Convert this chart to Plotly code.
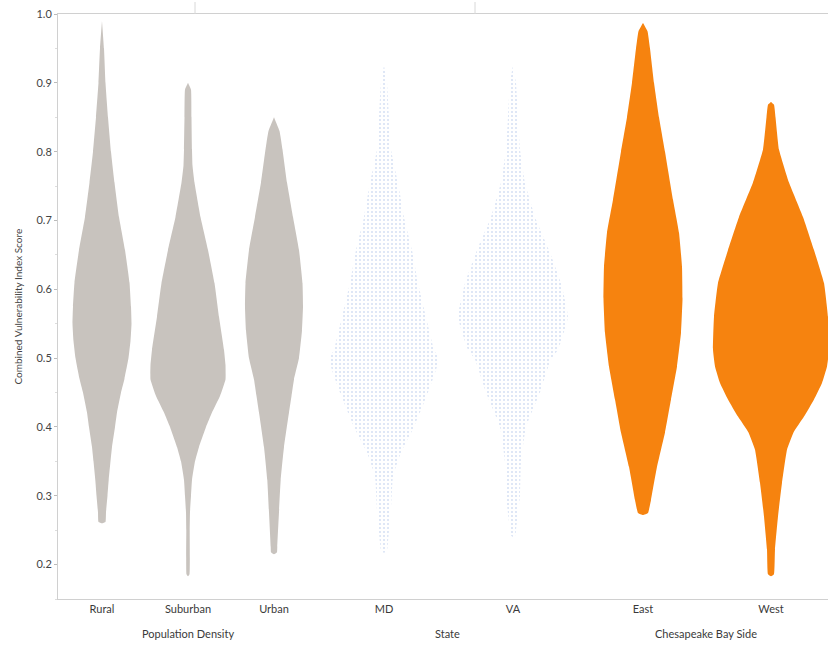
import plotly.graph_objects as go

# ---- data ----
categories = ["Rural", "Suburban", "Urban", "MD", "VA", "East", "West"]
groups = ["Population Density", "State", "Chesapeake Bay Side"]
y_ticks = [0.2, 0.3, 0.4, 0.5, 0.6, 0.7, 0.8, 0.9, 1.0]
y_tick_labels = ["0.2", "0.3", "0.4", "0.5", "0.6", "0.7", "0.8", "0.9", "1.0"]

# density profiles: score levels and relative half-widths
rural_y = [0.26, 0.262, 0.276, 0.30, 0.323, 0.35, 0.371, 0.40, 0.421, 0.45, 0.47, 0.50, 0.525, 0.55, 0.575,
           0.61, 0.657, 0.705, 0.755, 0.80, 0.85, 0.90, 0.95, 0.99]
rural_w = [0, 3.5, 4, 5.5, 6.7, 8.5, 10, 13, 15, 19, 22.5, 26.5, 28.5, 29.5, 29, 27.5, 23, 17, 12.5, 9, 6, 3.5, 2, 0]

suburban_y = [0.183, 0.186, 0.25, 0.276, 0.30, 0.323, 0.35, 0.371, 0.40, 0.421, 0.445, 0.469, 0.49, 0.512, 0.56,
              0.609, 0.657, 0.705, 0.755, 0.78, 0.803, 0.85, 0.89, 0.90]
suburban_w = [0, 1.5, 1.7, 2, 3, 4, 7, 11, 18, 24, 32, 37.5, 37.5, 36, 31, 26.5, 20, 12.5, 6.5, 4.5, 4, 3.5, 3, 0]

urban_y = [0.215, 0.218, 0.226, 0.276, 0.323, 0.371, 0.421, 0.445, 0.469, 0.50, 0.54, 0.575, 0.609, 0.657, 0.705,
           0.755, 0.803, 0.83, 0.85]
urban_w = [0, 3, 3.3, 5, 6.7, 10, 15, 17.5, 20, 25, 28, 29, 28.5, 25, 19, 13, 8.5, 5.5, 0]

md_y = [0.217, 0.22, 0.232, 0.28, 0.328, 0.363, 0.40, 0.45, 0.498, 0.512, 0.56, 0.609, 0.657, 0.705, 0.755, 0.803,
        0.85, 0.90, 0.925]
md_w = [0, 3, 4, 7, 9, 17, 30, 44, 55, 50, 42, 34, 28, 20, 14, 7, 5, 3, 0]

va_y = [0.24, 0.243, 0.25, 0.30, 0.35, 0.40, 0.45, 0.498, 0.512, 0.56, 0.609, 0.657, 0.705, 0.755, 0.803, 0.85,
        0.90, 0.925]
va_w = [0, 2.5, 3, 7, 8, 13, 27, 38, 45, 55, 48, 36, 22, 12, 7, 5, 3, 0]

east_y = [0.272, 0.275, 0.294, 0.342, 0.392, 0.44, 0.488, 0.537, 0.585, 0.633, 0.682, 0.73, 0.80, 0.85, 0.90,
          0.95, 0.975, 0.987]
east_w = [0, 5, 8, 14, 22, 28, 34, 38, 39.5, 39, 36, 30, 22, 16, 11, 7, 4.5, 0]

west_y = [0.183, 0.186, 0.222, 0.27, 0.319, 0.367, 0.392, 0.415, 0.44, 0.464, 0.488, 0.512, 0.56, 0.609, 0.657,
          0.705, 0.755, 0.803, 0.85, 0.868, 0.872]
west_w = [0, 3, 4, 7, 11, 16, 22.5, 33, 43, 51, 56, 58, 57, 53, 43, 32, 18, 8, 4.5, 3, 0]

profiles = {
    "Rural": (rural_y, rural_w), "Suburban": (suburban_y, suburban_w), "Urban": (urban_y, urban_w),
    "MD": (md_y, md_w), "VA": (va_y, va_w), "East": (east_y, east_w), "West": (west_y, west_w),
}

# ---- layout / positions ----
centers = {"Rural": 44, "Suburban": 130, "Urban": 216, "MD": 326, "VA": 455, "East": 585, "West": 713}
group_centers = [130, 389, 648]
GRAY = "#c8c3be"
ORANGE = "#f6830f"
styles = {c: "gray" for c in ["Rural", "Suburban", "Urban"]}
styles.update({"MD": "dots", "VA": "dots", "East": "orange", "West": "orange"})

fig = go.Figure()
for cat in categories:
    ys, ws = profiles[cat]
    cx = centers[cat]
    xs = [cx + w for w in ws] + [cx - w for w in reversed(ws)]
    yy = list(ys) + list(reversed(ys))
    kw = dict(x=xs, y=yy, mode="lines", fill="toself", line=dict(width=0, shape="spline", smoothing=0.35),
              hoverinfo="skip", showlegend=False)
    if styles[cat] == "gray":
        fig.add_trace(go.Scatter(fillcolor=GRAY, **kw))
    elif styles[cat] == "orange":
        fig.add_trace(go.Scatter(fillcolor=ORANGE, **kw))
    else:
        fig.add_trace(go.Scatter(fillcolor="rgba(255,255,255,0)",
                                 fillpattern=dict(shape=".", fgcolor="#a9bfe8", bgcolor="rgba(255,255,255,0)",
                                                  size=4, solidity=0.2), **kw))

W, H = 828, 648
L, R, T, B = 58, 0, 14, 49
PW = W - L - R
fig.update_layout(
    width=W, height=H,
    margin=dict(l=L, r=R, t=T, b=B, autoexpand=False),
    paper_bgcolor="white", plot_bgcolor="white",
    font=dict(family="Lato, Open Sans, sans-serif", size=11, color="#333333"),
    xaxis=dict(range=[0, PW], tickvals=[centers[c] for c in categories], ticktext=categories,
               showgrid=False, zeroline=False, showline=True, linecolor="#d0d0d0", linewidth=1,
               mirror=True, ticks="", automargin=False, tickfont=dict(size=11, color="#3a3a3a")),
    yaxis=dict(range=[0.15, 1.0], tickvals=y_ticks, ticktext=y_tick_labels, automargin=False,
               showgrid=False, zeroline=False, showline=True, linecolor="#d0d0d0", linewidth=1,
               ticks="outside", ticklen=3, tickcolor="#bbbbbb", tickfont=dict(size=11, color="#444444"),
               minor=dict(ticks="outside", ticklen=2, tickcolor="#dddddd", dtick=0.05)),
)

for g, gx in zip(groups, group_centers):
    fig.add_annotation(x=gx, y=0, xref="x", yref="paper", text=g, showarrow=False,
                       yanchor="top", yshift=-26, font=dict(size=11, color="#3a3a3a"))

fig.add_annotation(x=(17 - L) / PW, y=0.5, xref="paper", yref="paper", xanchor="center", yanchor="middle",
                   text="Combined Vulnerability Index Score", textangle=-90, showarrow=False,
                   font=dict(size=10, color="#444444"))

# faint panel-border fragments at the top edge
for px in [195, 475]:
    fig.add_shape(type="line", xref="paper", yref="paper",
                  x0=(px - L) / PW, x1=(px - L) / PW, y0=1.0, y1=1 + 12 / (H - T - B),
                  line=dict(color="#d8d8d8", width=1))

fig.write_html("out.html", config={"displayModeBar": False},
               post_script="document.body.style.margin='0';document.body.style.overflow='hidden';")
